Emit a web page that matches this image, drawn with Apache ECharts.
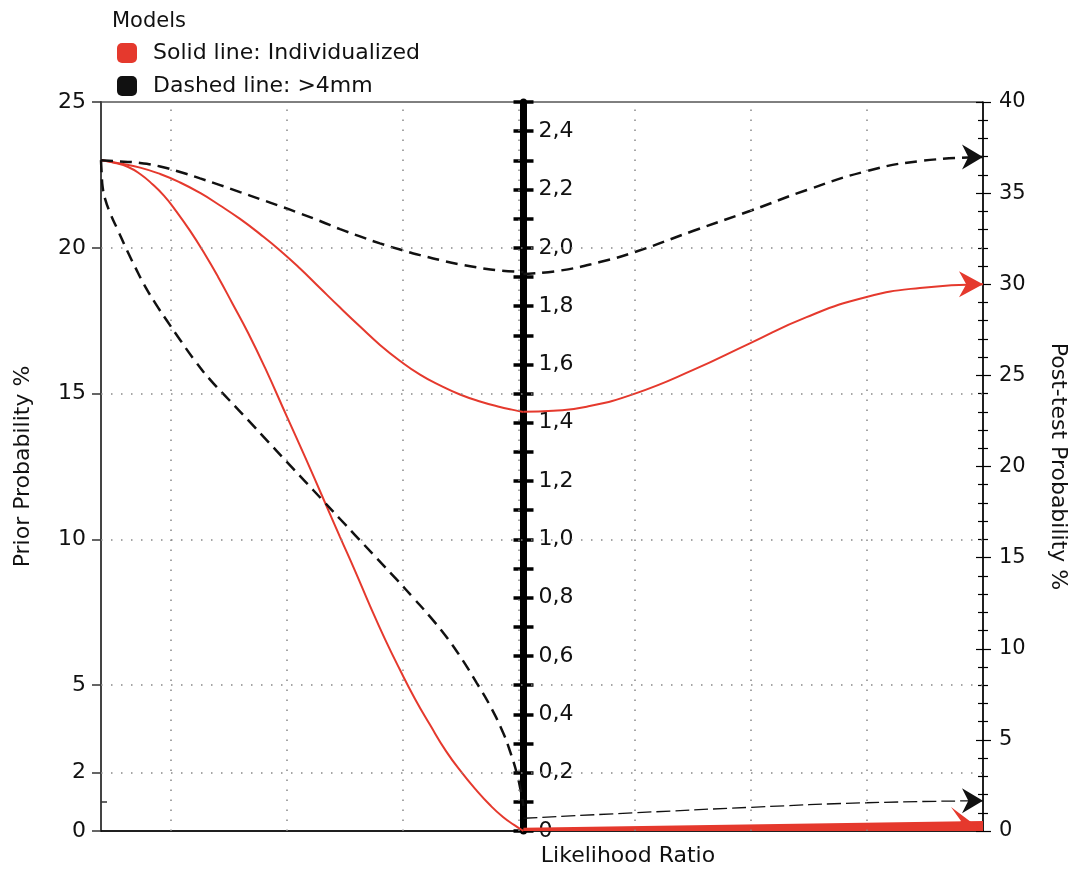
<!DOCTYPE html>
<html>
<head>
<meta charset="utf-8">
<script src="https://cdn.jsdelivr.net/npm/echarts@6/dist/echarts.min.js"></script>
<style>
html, body { margin: 0; padding: 0; background: #fff; }
#chart { width: 1074px; height: 870px; }
</style>
</head>
<body>
<div id="chart"></div>
<script>
// horizontal position is counted in grid columns: left edge -0.6, right edge 7, LR axis at 3.04
var gridCols = [0, 1, 2, 3, 4, 5, 6];
var gridRows = [2, 5, 10, 15, 20];
var priorLabels = [0, 2, 5, 10, 15, 20, 25];
var priorMinor = [1];

// left half, Prior Probability %
var indivHighPrior = [[-0.6, 23.0], [-0.435, 22.89], [-0.263, 22.75], [-0.09, 22.53], [0.082, 22.24], [0.254, 21.88],
    [0.426, 21.45], [0.598, 20.99], [0.771, 20.47], [0.943, 19.91], [1.115, 19.29], [1.287, 18.62], [1.46, 17.95],
    [1.632, 17.3], [1.804, 16.67], [1.977, 16.12], [2.149, 15.65], [2.321, 15.28], [2.493, 14.97], [2.666, 14.73],
    [2.838, 14.54], [2.941, 14.45], [3.04, 14.37]];
var indivLowPrior = [[-0.6, 23.0], [-0.478, 22.91], [-0.366, 22.77], [-0.263, 22.53], [-0.159, 22.19], [-0.056, 21.78],
    [0.047, 21.26], [0.168, 20.58], [0.289, 19.82], [0.409, 19.0], [0.53, 18.11], [0.668, 17.08], [0.814, 15.88],
    [1.003, 14.2], [1.158, 12.83], [1.313, 11.42], [1.46, 10.08], [1.589, 8.92], [1.718, 7.72], [1.847, 6.58],
    [1.977, 5.52], [2.106, 4.53], [2.235, 3.64], [2.373, 2.74], [2.511, 1.99], [2.632, 1.41], [2.752, 0.89],
    [2.864, 0.48], [2.959, 0.21], [3.04, 0]];
var mm4HighPrior = [[-0.6, 23.0], [-0.435, 22.96], [-0.263, 22.91], [-0.09, 22.79], [0.082, 22.6], [0.254, 22.38],
    [0.426, 22.15], [0.598, 21.91], [0.771, 21.67], [0.943, 21.43], [1.115, 21.18], [1.287, 20.92], [1.46, 20.64],
    [1.632, 20.39], [1.804, 20.15], [1.977, 19.94], [2.149, 19.75], [2.321, 19.58], [2.493, 19.43], [2.666, 19.31],
    [2.838, 19.22], [3.04, 19.17]];
var mm4LowPrior = [[-0.6, 23.0], [-0.594, 22.53], [-0.586, 22.09], [-0.564, 21.67], [-0.521, 21.19], [-0.452, 20.58],
    [-0.377, 19.92], [-0.306, 19.34], [-0.234, 18.78], [-0.134, 18.11], [-0.03, 17.49], [0.082, 16.84], [0.211, 16.12],
    [0.34, 15.48], [0.504, 14.78], [0.668, 14.09], [0.831, 13.39], [1.003, 12.65], [1.158, 11.99], [1.313, 11.33],
    [1.46, 10.7], [1.589, 10.15], [1.77, 9.38], [1.951, 8.61], [2.097, 7.97], [2.235, 7.35], [2.364, 6.72],
    [2.493, 6.0], [2.637, 5.08], [2.752, 4.3], [2.866, 3.36], [2.924, 2.74], [2.982, 1.99], [3.015, 1.41], [3.04, 0.86]];

// right half, Post-test Probability %
var indivHighPost = [[3.04, 23.0], [3.297, 23.06], [3.585, 23.28], [4.001, 24.0], [4.503, 25.3], [4.991, 26.76],
    [5.48, 28.2], [5.997, 29.3], [6.456, 29.8], [7, 30.0]];
var indivLowPost = [[3.04, 0.12], [7, 0.5]];
var mm4HighPost = [[3.04, 30.56], [3.355, 30.75], [3.699, 31.22], [4.001, 31.77], [4.5, 32.92], [4.991, 34.02],
    [5.482, 35.17], [5.999, 36.21], [6.456, 36.76], [7, 36.98]];
var mm4LowPost = [[3.04, 0.7], [4, 1.0], [5, 1.3], [6, 1.55], [7, 1.66]];

var RED = '#e5392d';
var BLACK = '#111';
var FONT = 'DejaVu Sans, sans-serif';
var ARROW = 'path://M0,0 L20,12 L0,24 L6,12 Z';
var HALF_ARROW = 'path://M0,0 L32,24 L2,24 L10,14 Z';

function arrowEnd(pts, sym, size, offset) {
    return pts.map(function (p, i) {
        if (i < pts.length - 1) return p;
        return { value: p, symbol: sym, symbolSize: size, symbolOffset: offset };
    });
}

function lrLabel(v) {
    var k = Math.round(v * 10);
    if (k % 2 !== 0) return '';
    if (k === 0) return '0';
    return (k / 10).toFixed(1).replace('.', ',');
}

var lrAxis = {
    position: 'left', offset: -422.5, min: 0, max: 2.5, interval: 0.1,
    axisLine: { show: true, onZero: false, lineStyle: { color: '#000', width: 7 } },
    axisTick: { show: true, length: 10, lineStyle: { color: '#000', width: 3.5 } },
    axisLabel: { show: false },
    splitLine: { show: false }
};

var option = {
    animation: false,
    backgroundColor: '#fff',
    title: {
        text: 'Models', left: 112, top: 11, padding: 0,
        textStyle: { fontFamily: FONT, fontSize: 21, fontWeight: 'normal', color: '#111' }
    },
    legend: {
        orient: 'vertical', left: 117, top: 42, padding: 0,
        itemWidth: 20, itemHeight: 20, itemGap: 11,
        icon: 'roundRect',
        itemStyle: { borderWidth: 0 },
        textStyle: { fontFamily: FONT, fontSize: 22, color: '#111', padding: [0, 0, 0, 11] },
        data: ['Solid line: Individualized', 'Dashed line: >4mm']
    },
    grid: {
        left: 101, right: 91, top: 102, bottom: 39, outerBoundsMode: 'none',
        show: true, borderColor: '#000', borderWidth: 1
    },
    xAxis: {
        type: 'value', min: -0.6, max: 7,
        name: 'Likelihood Ratio', nameLocation: 'middle', nameGap: 14,
        nameTextStyle: { fontFamily: FONT, fontSize: 22, color: '#111', padding: [0, 0, 0, 172] },
        axisLine: { show: true, onZero: false, lineStyle: { color: '#000', width: 1.5 } },
        axisTick: { show: false }, axisLabel: { show: false }, splitLine: { show: false }
    },
    yAxis: [
        {
            type: 'value', position: 'left', min: 0, max: 25,
            name: 'Prior Probability %', nameLocation: 'middle', nameGap: 67,
            nameTextStyle: { fontFamily: FONT, fontSize: 22, color: '#111' },
            axisLine: { show: true, onZero: false, lineStyle: { color: '#444', width: 2 } },
            axisTick: { show: true, length: 9, customValues: priorLabels, lineStyle: { color: '#333', width: 1.5 } },
            axisLabel: { customValues: priorLabels, fontFamily: FONT, fontSize: 22, color: '#111', margin: 15 },
            splitLine: { show: false }
        },
        {
            type: 'value', position: 'left', min: 0, max: 25,
            axisLine: { show: false, onZero: false },
            axisTick: { show: true, inside: true, length: 6, customValues: priorMinor, lineStyle: { color: '#333', width: 1.5 } },
            axisLabel: { show: false }, splitLine: { show: false }
        },
        lrAxis,
        Object.assign({}, lrAxis, {
            axisLine: { show: false, onZero: false },
            axisTick: { show: true, inside: true, length: 10, lineStyle: { color: '#000', width: 3.5 } },
            axisLabel: { show: true, inside: true, margin: 15, formatter: lrLabel, fontFamily: FONT, fontSize: 22, color: '#111' }
        }),
        {
            type: 'value', position: 'right', min: 0, max: 40, interval: 5,
            name: 'Post-test Probability %', nameLocation: 'middle', nameGap: 64, nameRotate: -90,
            nameTextStyle: { fontFamily: FONT, fontSize: 22, color: '#111' },
            axisLine: { show: true, onZero: false, lineStyle: { color: '#000', width: 1.5 } },
            axisTick: { show: true, length: 8, lineStyle: { color: '#000', width: 1.2 } },
            minorTick: { show: true, splitNumber: 5, length: 5, lineStyle: { color: '#000', width: 1.2 } },
            axisLabel: { fontFamily: FONT, fontSize: 21, color: '#111', margin: 16 },
            splitLine: { show: false }
        },
        {
            type: 'value', position: 'right', min: 0, max: 40, interval: 5,
            axisLine: { show: false, onZero: false },
            axisTick: { show: true, inside: true, length: 7, lineStyle: { color: '#000', width: 1.2 } },
            minorTick: { show: true, splitNumber: 5, length: 5, lineStyle: { color: '#000', width: 1.2 } },
            axisLabel: { show: false }, splitLine: { show: false }
        }
    ],
    series: [
        {
            name: 'grid', type: 'line', data: [], z: 1,
            markLine: {
                silent: true, symbol: ['none', 'none'], animation: false,
                label: { show: false },
                lineStyle: { color: '#888', type: [1.5, 8.5], width: 1.5 },
                data: gridCols.map(function (x) { return { xAxis: x }; })
                    .concat(gridRows.map(function (y) { return { yAxis: y }; }))
            }
        },
        {
            name: 'Solid line: Individualized', type: 'line', yAxisIndex: 0,
            data: indivHighPrior, smooth: true, showSymbol: false, symbol: 'none',
            itemStyle: { color: RED }, lineStyle: { color: RED, width: 2 }
        },
        {
            name: 'Solid line: Individualized', type: 'line', yAxisIndex: 0,
            data: indivLowPrior, smooth: true, showSymbol: false, symbol: 'none',
            itemStyle: { color: RED }, lineStyle: { color: RED, width: 2 }
        },
        {
            name: 'Dashed line: >4mm', type: 'line', yAxisIndex: 0,
            data: mm4HighPrior, smooth: true, showSymbol: false, symbol: 'none',
            itemStyle: { color: BLACK }, lineStyle: { color: BLACK, width: 2.5, type: [12, 7] }
        },
        {
            name: 'Dashed line: >4mm', type: 'line', yAxisIndex: 0,
            data: mm4LowPrior, smooth: true, showSymbol: false, symbol: 'none',
            itemStyle: { color: BLACK }, lineStyle: { color: BLACK, width: 2.5, type: [12, 7] }
        },
        {
            name: 'Solid line: Individualized', type: 'line', yAxisIndex: 4, clip: false,
            data: arrowEnd(indivHighPost, ARROW, [24, 26], ['-50%', 0]),
            smooth: true, showSymbol: true, symbol: 'none',
            itemStyle: { color: RED }, lineStyle: { color: RED, width: 2 }
        },
        {
            name: 'Solid line: Individualized', type: 'line', yAxisIndex: 4, clip: false,
            data: arrowEnd(indivLowPost, HALF_ARROW, [32, 24], [-16, -3]),
            showSymbol: true, symbol: 'none',
            itemStyle: { color: RED }, lineStyle: { color: RED, width: 2 },
            areaStyle: { color: RED, opacity: 1 }
        },
        {
            name: 'Dashed line: >4mm', type: 'line', yAxisIndex: 4, clip: false,
            data: arrowEnd(mm4HighPost, ARROW, [21, 25], ['-50%', 0]),
            smooth: true, showSymbol: true, symbol: 'none',
            itemStyle: { color: BLACK }, lineStyle: { color: BLACK, width: 2.5, type: [12, 7] }
        },
        {
            name: 'Dashed line: >4mm', type: 'line', yAxisIndex: 4, clip: false,
            data: arrowEnd(mm4LowPost, ARROW, [21, 25], ['-50%', 0]),
            smooth: true, showSymbol: true, symbol: 'none',
            itemStyle: { color: BLACK }, lineStyle: { color: BLACK, width: 1.3, type: [14, 5] }
        }
    ]
};

var chart = echarts.init(document.getElementById('chart'));
chart.setOption(option);
</script>
</body>
</html>
